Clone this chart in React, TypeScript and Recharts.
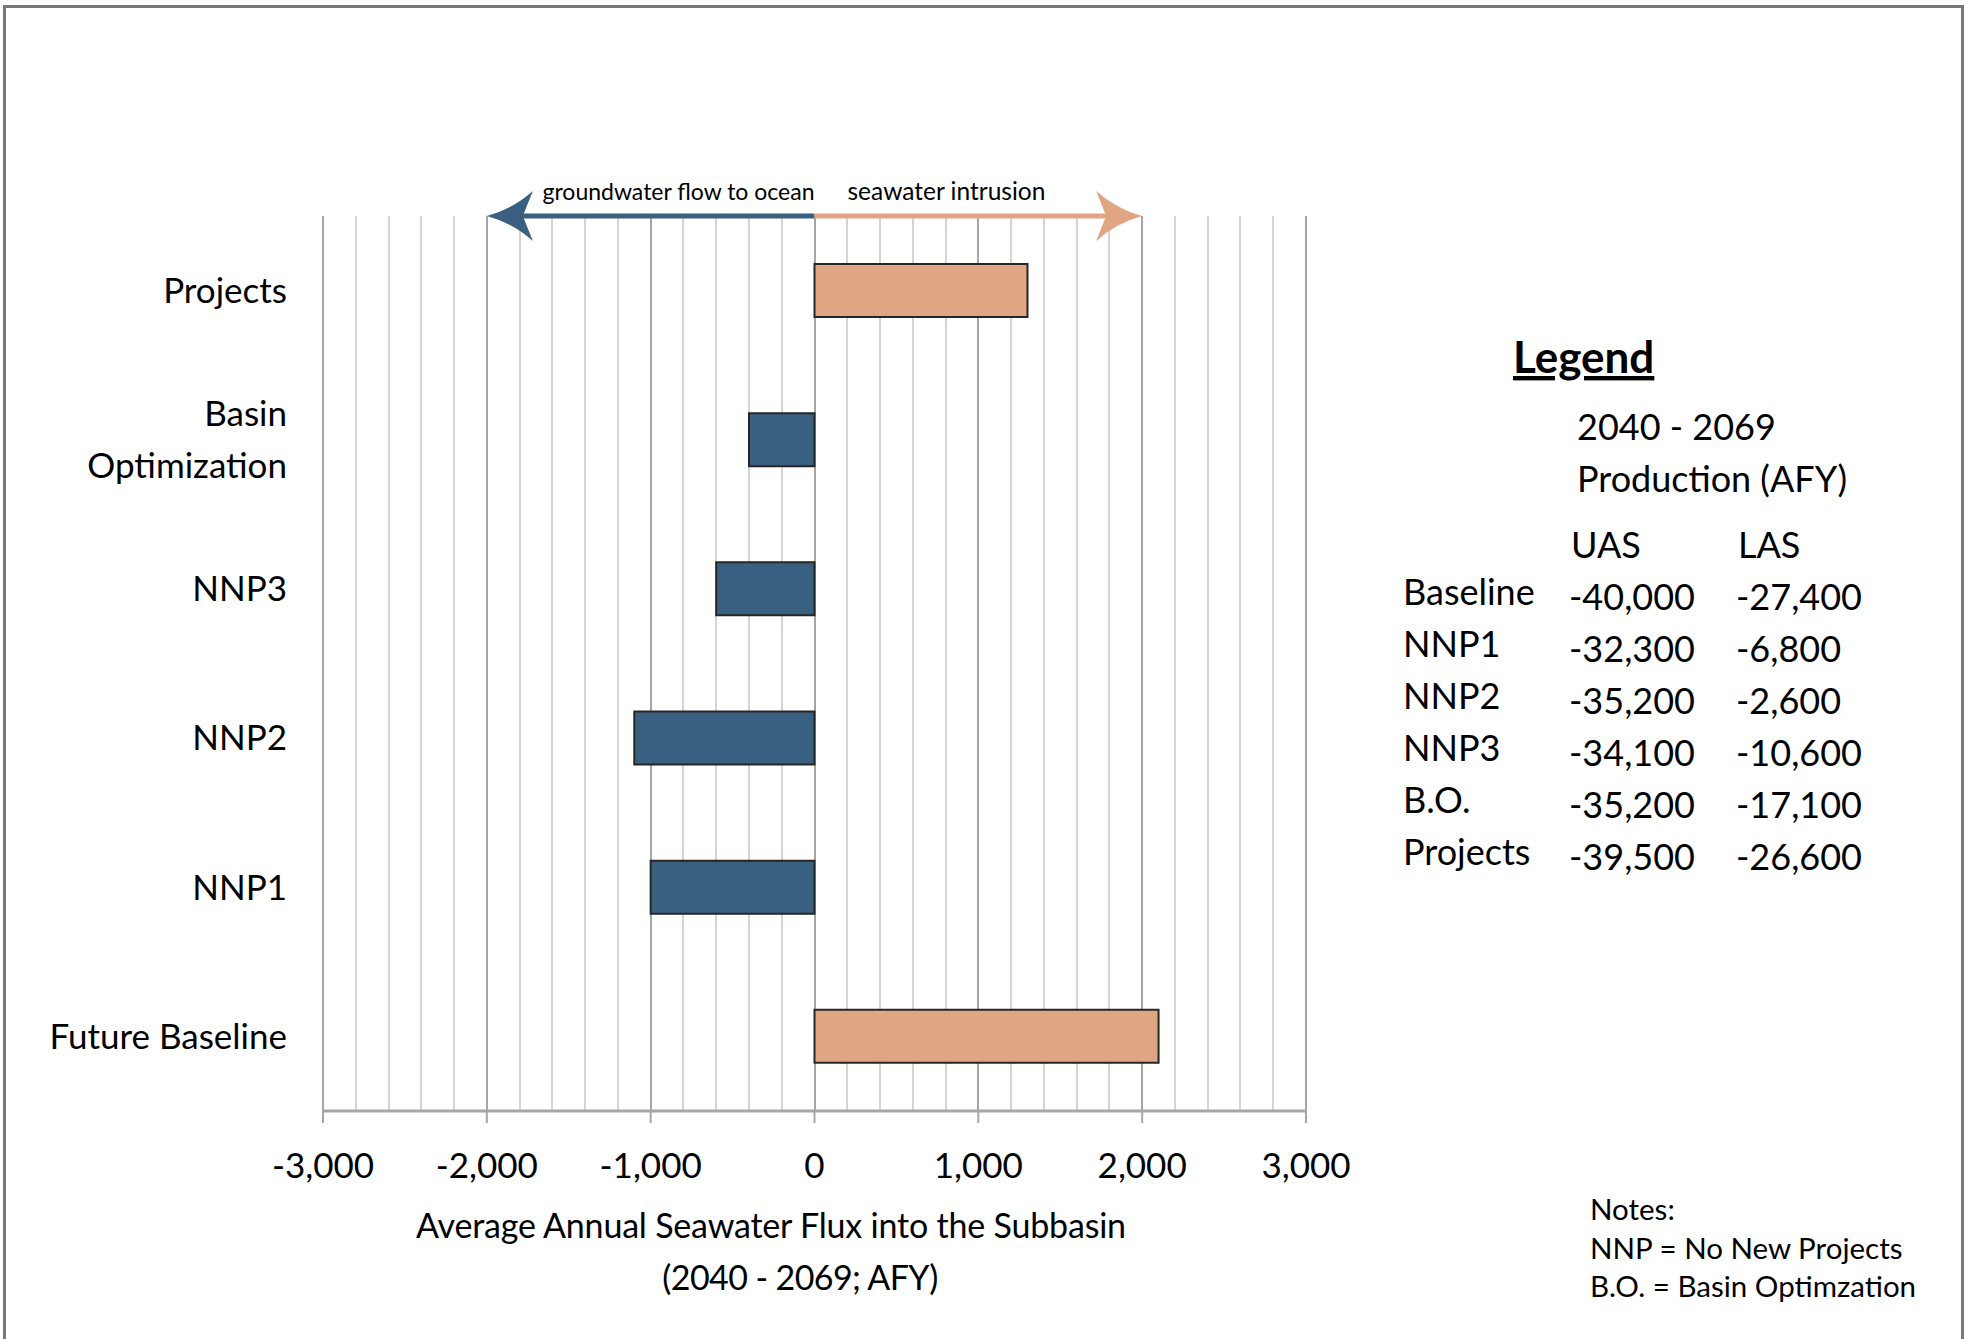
import { BarChart, Bar, Cell, XAxis, YAxis, CartesianGrid, ReferenceArea } from "recharts"

const categories = ["Projects", "Basin\nOptimization", "NNP3", "NNP2", "NNP1", "Future Baseline"]
const fluxValues = [1300, -400, -600, -1100, -1000, 2100]
const xTicks = [-3000, -2000, -1000, 0, 1000, 2000, 3000]

const legendScenarios = ["Baseline", "NNP1", "NNP2", "NNP3", "B.O.", "Projects"]
const uasProduction = [-40000, -32300, -35200, -34100, -35200, -39500]
const lasProduction = [-27400, -6800, -2600, -10600, -17100, -26600]

const notes = ["Notes:", "NNP = No New Projects", "B.O. = Basin Optimzation"]

const data = categories.map((name, i) => ({ name, value: fluxValues[i] }))
// minor gridlines every 200
const minorTicks = Array.from({ length: 31 }, (_, i) => -3000 + i * 200)

const BLUE = "#3a6081"
const ORANGE = "#e0a684"
const FONT = "Lato, 'Noto Sans', sans-serif"
const fmt = (v: number) => v.toLocaleString("en-US")

function CategoryTick(props: any) {
  const { x, y, payload } = props
  const lines = String(payload.value).split("\n")
  const lh = 52
  const start = y - ((lines.length - 1) * lh) / 2
  return (
    <text x={x} textAnchor="end" fontFamily={FONT} fontSize={35} fill="#000">
      {lines.map((l, i) => (
        <tspan key={i} x={x} y={start + i * lh} dy="0.35em">
          {l}
        </tspan>
      ))}
    </text>
  )
}

function FlowArrow(props: any) {
  const { x, y, width, dir, color, text } = props
  const tip = dir === "left" ? x : x + width
  const s = dir === "left" ? 1 : -1
  const head = `M${tip},${y} Q${tip + s * 26},${y - 7} ${tip + s * 46},${y - 25} L${tip + s * 36},${y} L${tip + s * 46},${y + 25} Q${tip + s * 26},${y + 7} ${tip},${y} Z`
  const shaftFrom = dir === "left" ? x + 34 : x
  const shaftTo = dir === "left" ? x + width : x + width - 34
  return (
    <g>
      <line x1={shaftFrom} y1={y} x2={shaftTo} y2={y} stroke={color} strokeWidth={5} />
      <path d={head} fill={color} />
      <text
        x={dir === "left" ? x + width : x + 33}
        y={y - 16}
        textAnchor={dir === "left" ? "end" : "start"}
        fontFamily={FONT}
        fontSize={dir === "left" ? 23 : 24.5}
        fill="#000"
      >
        {text}
      </text>
    </g>
  )
}

export default function App() {
  return (
    <div style={{ position: "absolute", left: 0, top: 0, width: 1971, height: 1339, overflow: "hidden", background: "#fff" }}>
      <div
        style={{
          position: "absolute",
          left: 3,
          top: 5,
          width: 1955,
          height: 1400,
          borderLeft: "3px solid #777",
          borderTop: "3px solid #777",
          borderRight: "3px solid #777",
        }}
      />
      <BarChart
        width={1971}
        height={1339}
        data={data}
        layout="vertical"
        margin={{ top: 216, right: 665, left: 0, bottom: 128 }}
        barSize={53}
      >
        <CartesianGrid
          horizontal={false}
          verticalValues={minorTicks}
          stroke="#d4d4d4"
          strokeWidth={2}
          shapeRendering="crispEdges"
        />
        <CartesianGrid
          horizontal={false}
          verticalValues={xTicks}
          stroke="#a6a6a6"
          strokeWidth={2}
          shapeRendering="crispEdges"
        />
        <XAxis
          type="number"
          domain={[-3000, 3000]}
          ticks={xTicks}
          interval={0}
          tickFormatter={fmt}
          height={100}
          axisLine={{ stroke: "#a6a6a6", strokeWidth: 3 }}
          tickLine={{ stroke: "#a6a6a6", strokeWidth: 2 }}
          tickSize={12}
          tickMargin={30}
          tick={{ fontFamily: FONT, fontSize: 35, fill: "#000" }}
        />
        <YAxis
          type="category"
          dataKey="name"
          width={323}
          axisLine={false}
          tickLine={false}
          tickSize={0}
          tickMargin={36}
          tick={<CategoryTick />}
          interval={0}
        />
        <Bar dataKey="value" stroke="#262626" strokeWidth={2} isAnimationActive={false}>
          {data.map((d, i) => (
            <Cell key={i} fill={d.value >= 0 ? ORANGE : BLUE} />
          ))}
        </Bar>
        <ReferenceArea
          x1={-2000}
          x2={0}
          ifOverflow="visible"
          shape={(p: any) => <FlowArrow {...p} dir="left" color={BLUE} text="groundwater flow to ocean" />}
        />
        <ReferenceArea
          x1={0}
          x2={2000}
          ifOverflow="visible"
          shape={(p: any) => <FlowArrow {...p} dir="right" color={ORANGE} text="seawater intrusion" />}
        />
      </BarChart>
      <svg
        width={1971}
        height={1339}
        style={{ position: "absolute", left: 0, top: 0, pointerEvents: "none" }}
        fontFamily={FONT}
      >
        <text x={771} y={1238} textAnchor="middle" fontSize={34} letterSpacing={-0.2} fill="#000">
          Average Annual Seawater Flux into the Subbasin
        </text>
        <text x={800} y={1290} textAnchor="middle" fontSize={34} letterSpacing={-0.6} fill="#000">
          (2040 - 2069; AFY)
        </text>

        <text x={1513} y={373} fontSize={44} fontWeight={700} textDecoration="underline" fill="#000">
          Legend
        </text>
        <text x={1577} y={440} fontSize={36} fill="#000">
          2040 - 2069
        </text>
        <text x={1577} y={492} fontSize={36} fill="#000">
          Production (AFY)
        </text>
        <text x={1571} y={558} fontSize={36} fill="#000">
          UAS
        </text>
        <text x={1738} y={558} fontSize={36} fill="#000">
          LAS
        </text>
        {legendScenarios.map((s, i) => (
          <g key={s}>
            <text x={1403} y={605 + i * 52} fontSize={36} fill="#000">
              {s}
            </text>
            <text x={1569} y={610 + i * 52} fontSize={36} fill="#000">
              {fmt(uasProduction[i])}
            </text>
            <text x={1736} y={610 + i * 52} fontSize={36} fill="#000">
              {fmt(lasProduction[i])}
            </text>
          </g>
        ))}

        {notes.map((n, i) => (
          <text key={n} x={1590} y={1220 + i * 38.5} fontSize={29.5} fill="#000">
            {n}
          </text>
        ))}
      </svg>
    </div>
  )
}
